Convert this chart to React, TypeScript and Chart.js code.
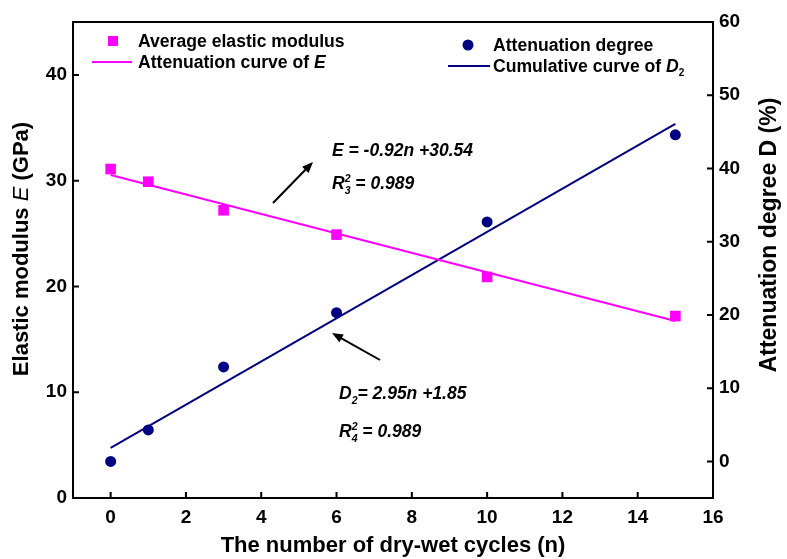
import React, { useEffect, useRef } from "react";
import { Chart, registerables } from "chart.js";

Chart.register(...registerables);

// ---- data ----
const cycles = [0, 1, 3, 6, 10, 15];
const elasticModulus = [31.1, 29.9, 27.2, 24.9, 20.9, 17.2];
const attenuationDegree = [0, 4.3, 12.9, 20.3, 32.7, 44.6];
const fitRange = [0, 15];
const eFitCoef = [-0.92, 30.54]; // slope, intercept
const dFitCoef = [2.95, 1.85]; // slope, intercept
const xTicks = [0, 2, 4, 6, 8, 10, 12, 14, 16];
const leftTicks = [0, 10, 20, 30, 40];
const rightTicks = [0, 10, 20, 30, 40, 50, 60];

const MAGENTA = "#ff00ff";
const NAVY = "#000080";
const FONT = "'Liberation Sans', Arial, sans-serif";

type Run = { t: string; it?: boolean; sz?: number; dy?: number; stay?: boolean; w?: string };

function drawRuns(ctx: CanvasRenderingContext2D, x: number, y: number, runs: Run[], base: number, weight = "bold") {
  let cx = x;
  for (const r of runs) {
    const size = r.sz ?? base;
    ctx.font = `${r.it ? "italic " : ""}${r.w ?? weight} ${size}px ${FONT}`;
    ctx.fillText(r.t, cx, y + (r.dy ?? 0));
    if (!r.stay) cx += ctx.measureText(r.t).width;
  }
  return cx - x;
}

function measureRuns(ctx: CanvasRenderingContext2D, runs: Run[], base: number, weight = "bold") {
  let w = 0;
  for (const r of runs) {
    const size = r.sz ?? base;
    ctx.font = `${r.it ? "italic " : ""}${r.w ?? weight} ${size}px ${FONT}`;
    if (!r.stay) w += ctx.measureText(r.t).width;
  }
  return w;
}

function arrow(ctx: CanvasRenderingContext2D, x1: number, y1: number, x2: number, y2: number) {
  const ang = Math.atan2(y2 - y1, x2 - x1);
  const hl = 11, hw = 4.5;
  ctx.beginPath();
  ctx.moveTo(x1, y1);
  ctx.lineTo(x2 - Math.cos(ang) * hl * 0.8, y2 - Math.sin(ang) * hl * 0.8);
  ctx.lineWidth = 2;
  ctx.strokeStyle = "#000";
  ctx.stroke();
  ctx.beginPath();
  ctx.moveTo(x2, y2);
  ctx.lineTo(x2 - Math.cos(ang) * hl - Math.sin(ang) * hw, y2 - Math.sin(ang) * hl + Math.cos(ang) * hw);
  ctx.lineTo(x2 - Math.cos(ang) * hl + Math.sin(ang) * hw, y2 - Math.sin(ang) * hl - Math.cos(ang) * hw);
  ctx.closePath();
  ctx.fillStyle = "#000";
  ctx.fill();
}

const decor = {
  id: "decor",
  afterDraw(chart: any) {
    const { ctx, chartArea: a, scales } = chart;
    ctx.save();
    // frame
    ctx.strokeStyle = "#000";
    ctx.lineWidth = 2;
    ctx.strokeRect(a.left, a.top, a.right - a.left, a.bottom - a.top);
    // inward tick marks
    const L = 6;
    ctx.beginPath();
    xTicks.forEach((v) => {
      const px = scales.x.getPixelForValue(v);
      ctx.moveTo(px, a.bottom);
      ctx.lineTo(px, a.bottom - L);
    });
    leftTicks.forEach((v) => {
      const py = scales.y.getPixelForValue(v);
      ctx.moveTo(a.left, py);
      ctx.lineTo(a.left + L, py);
    });
    rightTicks.forEach((v) => {
      const py = scales.y1.getPixelForValue(v);
      ctx.moveTo(a.right, py);
      ctx.lineTo(a.right - L, py);
    });
    ctx.stroke();

    ctx.fillStyle = "#000";
    ctx.textBaseline = "alphabetic";
    ctx.textAlign = "left";

    // legend
    ctx.fillStyle = MAGENTA;
    ctx.fillRect(108, 36, 10, 10);
    ctx.strokeStyle = MAGENTA;
    ctx.lineWidth = 2;
    ctx.beginPath();
    ctx.moveTo(92, 62);
    ctx.lineTo(132, 62);
    ctx.stroke();
    ctx.fillStyle = NAVY;
    ctx.beginPath();
    ctx.arc(468, 45, 5.5, 0, Math.PI * 2);
    ctx.fill();
    ctx.strokeStyle = NAVY;
    ctx.beginPath();
    ctx.moveTo(448, 66);
    ctx.lineTo(490, 66);
    ctx.stroke();

    ctx.fillStyle = "#000";
    drawRuns(ctx, 138, 47, [{ t: "Average elastic modulus" }], 17.6);
    drawRuns(ctx, 138, 68, [{ t: "Attenuation curve of " }, { t: "E", it: true }], 17.6);
    drawRuns(ctx, 493, 51, [{ t: "Attenuation degree" }], 17.6);
    drawRuns(ctx, 493, 72, [{ t: "Cumulative curve of " }, { t: "D", it: true }, { t: "2", sz: 10, dy: 4 }], 17.6);

    // annotations
    drawRuns(ctx, 332, 156, [{ t: "E = -0.92n +30.54", it: true }], 17.5);
    drawRuns(ctx, 332, 189, [
      { t: "R", it: true },
      { t: "2", it: true, sz: 10.5, dy: -7, stay: true },
      { t: "3", it: true, sz: 10.5, dy: 5 },
      { t: " = 0.989", it: true },
    ], 17.5);
    drawRuns(ctx, 339, 399, [
      { t: "D", it: true },
      { t: "2", it: true, sz: 10.5, dy: 5 },
      { t: "= 2.95n +1.85", it: true },
    ], 17.5);
    drawRuns(ctx, 339, 437, [
      { t: "R", it: true },
      { t: "2", it: true, sz: 10.5, dy: -7, stay: true },
      { t: "4", it: true, sz: 10.5, dy: 5 },
      { t: " = 0.989", it: true },
    ], 17.5);
    arrow(ctx, 273, 203, 313, 162);
    arrow(ctx, 380, 360, 332, 333);

    // axis titles
    ctx.fillStyle = "#000";
    ctx.textBaseline = "middle";
    const xt: Run[] = [{ t: "The number of dry-wet cycles (n)" }];
    const xw = measureRuns(ctx, xt, 22);
    drawRuns(ctx, (a.left + a.right) / 2 - xw / 2, 546, xt, 22);

    const lt: Run[] = [{ t: "Elastic modulus " }, { t: "E", it: true, w: "normal" }, { t: " (GPa)" }];
    ctx.save();
    ctx.translate(22, 249);
    ctx.rotate(-Math.PI / 2);
    const lw = measureRuns(ctx, lt, 22);
    drawRuns(ctx, -lw / 2, 0, lt, 22);
    ctx.restore();

    const rt: Run[] = [{ t: "Attenuation degree D (%)" }];
    ctx.save();
    ctx.translate(770, 235);
    ctx.rotate(-Math.PI / 2);
    const rw = measureRuns(ctx, rt, 23);
    drawRuns(ctx, -rw / 2, 0, rt, 23);
    ctx.restore();

    ctx.restore();
  },
};

export default function App() {
  const ref = useRef<HTMLCanvasElement | null>(null);
  useEffect(() => {
    document.body.style.margin = "0";
    const canvas = ref.current;
    if (!canvas) return;
    const tickFont = { family: FONT, size: 19, weight: "bold" as const };
    const eFitLine = fitRange.map((n) => ({ x: n, y: eFitCoef[0] * n + eFitCoef[1] }));
    const dFitLine = fitRange.map((n) => ({ x: n, y: dFitCoef[0] * n + dFitCoef[1] }));
    const chart = new Chart(canvas, {
      type: "scatter",
      data: {
        datasets: [
          {
            label: "Average elastic modulus",
            data: cycles.map((n, i) => ({ x: n, y: elasticModulus[i] })),
            yAxisID: "y",
            pointStyle: "rect",
            pointRadius: 7.5,
            backgroundColor: MAGENTA,
            borderColor: MAGENTA,
            borderWidth: 0,
            order: 1,
          },
          {
            label: "Attenuation degree",
            data: cycles.map((n, i) => ({ x: n, y: attenuationDegree[i] })),
            yAxisID: "y1",
            pointStyle: "circle",
            pointRadius: 5.5,
            backgroundColor: NAVY,
            borderColor: NAVY,
            borderWidth: 0,
            order: 1,
          },
          {
            label: "Attenuation curve of E",
            data: eFitLine,
            yAxisID: "y",
            showLine: true,
            pointRadius: 0,
            borderColor: MAGENTA,
            borderWidth: 2,
            order: 2,
          },
          {
            label: "Cumulative curve of D2",
            data: dFitLine,
            yAxisID: "y1",
            showLine: true,
            pointRadius: 0,
            borderColor: NAVY,
            borderWidth: 2,
            order: 2,
          },
        ],
      },
      options: {
        animation: false,
        responsive: false,
        layout: { padding: { top: 22, left: 0, right: 0, bottom: 0 } },
        plugins: { legend: { display: false }, tooltip: { enabled: false } },
        scales: {
          x: {
            type: "linear",
            min: -1,
            max: 16,
            afterBuildTicks: (s: any) => {
              s.ticks = xTicks.map((v) => ({ value: v }));
            },
            afterFit: (s: any) => {
              s.height = 61;
            },
            grid: { display: false, drawTicks: false },
            border: { display: false },
            ticks: { padding: 8, color: "#000", font: tickFont, autoSkip: false, maxRotation: 0 },
          },
          y: {
            type: "linear",
            position: "left",
            min: 0,
            max: 45,
            afterBuildTicks: (s: any) => {
              s.ticks = leftTicks.map((v) => ({ value: v }));
            },
            afterFit: (s: any) => {
              s.width = 73;
            },
            grid: { display: false, drawTicks: false },
            border: { display: false },
            ticks: { padding: 6, color: "#000", font: tickFont, autoSkip: false },
          },
          y1: {
            type: "linear",
            position: "right",
            min: -5,
            max: 60,
            afterBuildTicks: (s: any) => {
              s.ticks = rightTicks.map((v) => ({ value: v }));
            },
            afterFit: (s: any) => {
              s.width = 74;
            },
            grid: { display: false, drawTicks: false },
            border: { display: false },
            ticks: { padding: 6, color: "#000", font: tickFont, autoSkip: false },
          },
        },
      },
      plugins: [decor],
    });
    return () => chart.destroy();
  }, []);
  return (
    <div style={{ width: 787, height: 559 }}>
      <canvas ref={ref} width={787} height={559} style={{ display: "block" }} />
    </div>
  );
}
